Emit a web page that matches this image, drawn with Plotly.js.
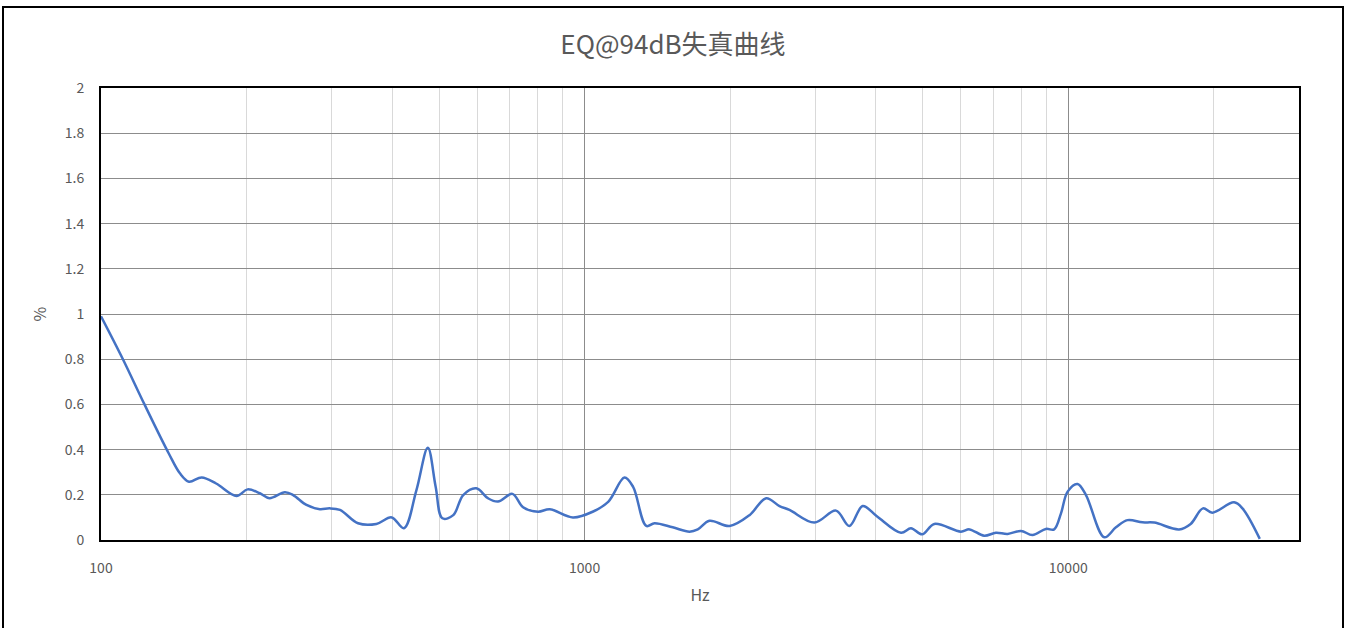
<!DOCTYPE html>
<html>
<head>
<meta charset="utf-8">
<script src="https://cdn.plot.ly/plotly-3.0.1.min.js"></script>
<style>
  html, body { margin: 0; padding: 0; background: #fff; }
  #wrap { position: relative; width: 1346px; height: 628px; }
  #chart { position: absolute; left: 0; top: 0; width: 1346px; height: 628px; }
  #frame { position: absolute; left: 2px; top: 6px; width: 1338px; height: 640px; border: 2px solid #000; pointer-events: none; }
</style>
</head>
<body>
<div id="wrap">
  <div id="chart"></div>
  <div id="frame"></div>
</div>
<script>
const chartTitle = "EQ@94dB失真曲线";
const xTitle = "Hz";
const yTitle = "%";

const freqHz = [100, 111, 123, 138, 145.6, 152, 161.5, 173, 190.6, 201, 213, 223, 240, 249.6, 266, 283.5,
  297, 312, 340, 371, 399, 423, 449, 474, 492, 508, 535, 561, 597, 631, 662, 709, 746, 801, 847, 946,
  1039, 1120, 1209, 1259, 1341, 1395, 1521, 1648, 1714, 1812, 1994, 2193, 2373, 2529, 2652, 2985,
  3310, 3528, 3758, 4020, 4510, 4730, 4986, 5285, 5998, 6247, 6700, 7086, 7493, 7985, 8435, 8990,
  9350, 9660, 9970, 10450, 10880, 11870, 12550, 13260, 14240, 15060, 16950, 17910, 18990, 19850,
  22020, 22920, 24890];
const thdPct = [0.99, 0.80, 0.60, 0.384, 0.295, 0.258, 0.277, 0.25, 0.195, 0.224, 0.207, 0.185, 0.211, 0.199, 0.155, 0.136,
  0.14, 0.133, 0.074, 0.071, 0.10, 0.052, 0.221, 0.408, 0.236, 0.096, 0.11, 0.199, 0.229, 0.185, 0.17, 0.204, 0.145, 0.125, 0.136, 0.10,
  0.125, 0.17, 0.276, 0.236, 0.062, 0.074, 0.056, 0.037, 0.047, 0.085, 0.062, 0.11, 0.185, 0.150, 0.133, 0.077,
  0.13, 0.062, 0.15, 0.105, 0.032, 0.052, 0.025, 0.071, 0.037, 0.047, 0.019, 0.032, 0.027, 0.04, 0.022, 0.049,
  0.047, 0.118, 0.214, 0.248, 0.199, 0.012, 0.056, 0.088, 0.078, 0.077, 0.047, 0.071, 0.14, 0.121,
  0.167, 0.14, 0.005];

const yTickVals = [0, 0.2, 0.4, 0.6, 0.8, 1, 1.2, 1.4, 1.6, 1.8, 2];
const yTickText = ["0", "0.2", "0.4", "0.6", "0.8", "1", "1.2", "1.4", "1.6", "1.8", "2"];
const xTickVals = [100, 1000, 10000];
const xTickText = ["100", "1000", "10000"];
const xMinorGrid = [200, 300, 400, 500, 600, 700, 800, 900, 2000, 3000, 4000, 5000, 6000, 7000, 8000, 9000, 20000];
const xMin = 100, xMax = 30000;

const FONT = '"Noto Sans CJK SC", "Noto Sans", sans-serif';
const GREY = '#595959';

const trace = {
  x: freqHz, y: thdPct, type: 'scatter', mode: 'lines',
  line: { color: '#4472C4', width: 2.5, shape: 'spline', smoothing: 1 },
  hoverinfo: 'x+y'
};

const layout = {
  width: 1346, height: 628,
  margin: { l: 101, r: 47, t: 88, b: 88 },
  paper_bgcolor: '#fff', plot_bgcolor: '#fff',
  showlegend: false,
  font: { family: FONT, color: GREY, size: 14 },
  title: { text: chartTitle, font: { family: FONT, size: 26, color: GREY }, x: 0.5, xanchor: 'center', y: 0.928, yanchor: 'middle' },
  xaxis: {
    type: 'log', range: [Math.log10(xMin), Math.log10(xMax)],
    tickmode: 'array', tickvals: xTickVals, ticktext: xTickText,
    ticks: 'outside', ticklen: 14, tickcolor: 'rgba(0,0,0,0)',
    tickfont: { family: FONT, size: 14, color: GREY },
    showgrid: true, gridcolor: '#8c8c8c', gridwidth: 1,
    minor: { tickmode: 'array', tickvals: xMinorGrid, showgrid: true, gridcolor: '#d9d9d9', gridwidth: 1, ticks: '' },
    showline: true, linecolor: '#000', linewidth: 2, mirror: true,
    zeroline: false,
    title: { text: xTitle, font: { family: FONT, size: 16, color: GREY }, standoff: 14 }
  },
  yaxis: {
    range: [0, 2], tickmode: 'array', tickvals: yTickVals, ticktext: yTickText,
    ticks: 'outside', ticklen: 12, tickcolor: 'rgba(0,0,0,0)',
    tickfont: { family: FONT, size: 14, color: GREY },
    showgrid: true, gridcolor: '#8c8c8c', gridwidth: 1,
    showline: true, linecolor: '#000', linewidth: 2, mirror: true,
    zeroline: false,
    title: { text: yTitle, font: { family: FONT, size: 16, color: GREY }, standoff: 14 }
  }
};

Plotly.newPlot('chart', [trace], layout, { displayModeBar: false });
</script>
</body>
</html>
